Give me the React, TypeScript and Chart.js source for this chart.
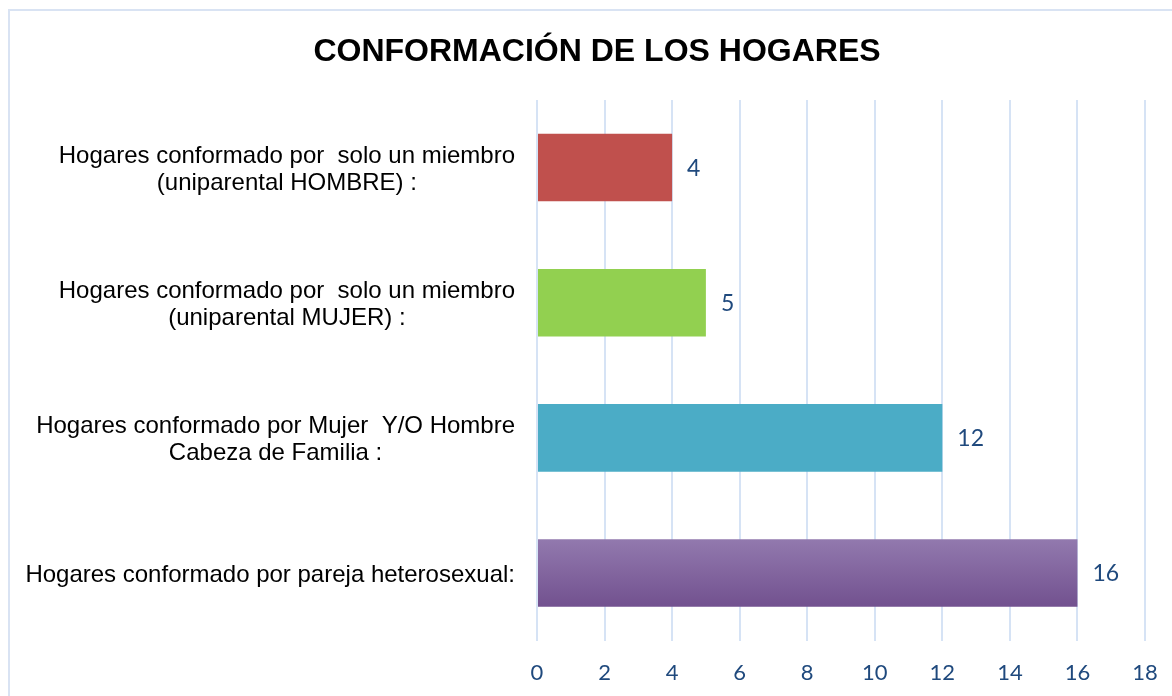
import React, { useEffect, useRef } from "react";
import { Chart, registerables } from "chart.js";
Chart.register(...registerables);

const chartTitle = "CONFORMACIÓN DE LOS HOGARES";
const categories: string[][] = [
  ["Hogares conformado por  solo un miembro", "(uniparental HOMBRE) :"],
  ["Hogares conformado por  solo un miembro", "(uniparental MUJER) :"],
  ["Hogares conformado por Mujer  Y/O Hombre", "Cabeza de Familia :"],
  ["Hogares conformado por pareja heterosexual:"],
];
const values = [4, 5, 12, 16];
const barColors = ["#C0504D", "#92D050", "#4BACC6", "#8064A2"];
const barGradients: (string[] | null)[] = [null, null, null, ["#9279AE", "#72518F"]];
const xMin = 0;
const xMax = 18;
const xStep = 2;

const W = 1172;
const H = 696;

const decorPlugin = {
  id: "decor",
  beforeDraw(chart: any) {
    const ctx = chart.ctx;
    ctx.save();
    ctx.fillStyle = "#ffffff";
    ctx.fillRect(0, 0, chart.width, chart.height);
    ctx.strokeStyle = "#D9E3F3";
    ctx.lineWidth = 2;
    ctx.beginPath();
    ctx.moveTo(9, chart.height);
    ctx.lineTo(9, 10);
    ctx.lineTo(chart.width, 10);
    ctx.stroke();
    ctx.restore();
  },
  afterDraw(chart: any) {
    const ctx = chart.ctx;
    const area = chart.chartArea;
    const yScale = chart.scales.y;
    const xScale = chart.scales.x;
    ctx.save();
    // title
    ctx.fillStyle = "#000000";
    ctx.font = "bold 32px 'Liberation Sans', Arial, sans-serif";
    ctx.textAlign = "center";
    ctx.textBaseline = "alphabetic";
    ctx.fillText(chartTitle, 597, 61);
    // category labels
    ctx.font = "24px 'Liberation Sans', Arial, sans-serif";
    ctx.textBaseline = "middle";
    const lineH = 27;
    const right = area.left - 22;
    (chart.data.labels as string[][]).forEach((lines, i) => {
      const cy = yScale.getPixelForValue(i) + 2;
      const maxW = Math.max(...lines.map((l) => ctx.measureText(l).width));
      const cx = right - maxW / 2;
      const startY = cy - ((lines.length - 1) * lineH) / 2;
      ctx.textAlign = "center";
      lines.forEach((l, j) => ctx.fillText(l, cx, startY + j * lineH));
    });
    // data labels
    ctx.font = "23px Lato, 'Liberation Sans', sans-serif";
    ctx.fillStyle = "#1F497D";
    ctx.textAlign = "left";
    const ds = chart.data.datasets[0].data as number[];
    ds.forEach((v, i) => {
      const x = xScale.getPixelForValue(v);
      const y = yScale.getPixelForValue(i);
      ctx.fillText(String(v), x + 15, y + 1);
    });
    ctx.restore();
  },
};

export default function App() {
  const ref = useRef<HTMLCanvasElement | null>(null);
  useEffect(() => {
    if (!ref.current) return;
    const chart = new Chart(ref.current, {
      type: "bar",
      data: {
        labels: categories,
        datasets: [
          {
            data: values,
            backgroundColor: (c: any) => {
              const i = c.dataIndex;
              const g = barGradients[i];
              const ch = c.chart;
              if (g && ch.chartArea && ch.scales && ch.scales.y) {
                const center = ch.scales.y.getPixelForValue(i);
                const half = ((ch.chartArea.bottom - ch.chartArea.top) / values.length) * 0.25;
                const grad = ch.ctx.createLinearGradient(0, center - half, 0, center + half);
                grad.addColorStop(0, g[0]);
                grad.addColorStop(1, g[1]);
                return grad;
              }
              return barColors[i];
            },
            borderWidth: 0,
            barPercentage: 0.5,
            categoryPercentage: 1,
          },
        ],
      },
      options: {
        indexAxis: "y",
        animation: false,
        responsive: false,
        maintainAspectRatio: false,
        layout: { padding: { left: 537, right: 27, top: 100, bottom: 6 } },
        plugins: {
          legend: { display: false },
          title: { display: false },
          tooltip: { enabled: false },
        },
        scales: {
          x: {
            min: xMin,
            max: xMax,
            ticks: {
              stepSize: xStep,
              color: "#1F497D",
              font: { family: "Lato, 'Liberation Sans', sans-serif", size: 22 },
              padding: 4,
            },
            grid: {
              color: "#D6E3F5",
              lineWidth: 2,
              drawTicks: true,
              tickLength: 15,
              tickColor: "rgba(0,0,0,0)",
            },
            border: { display: false },
          },
          y: {
            display: false,
            grid: { display: false },
          },
        },
      },
      plugins: [decorPlugin],
    });
    return () => chart.destroy();
  }, []);
  return (
    <div style={{ position: "absolute", left: 0, top: 0, width: W, height: H, overflow: "hidden" }}>
      <canvas ref={ref} width={W} height={H} style={{ display: "block" }} />
    </div>
  );
}
